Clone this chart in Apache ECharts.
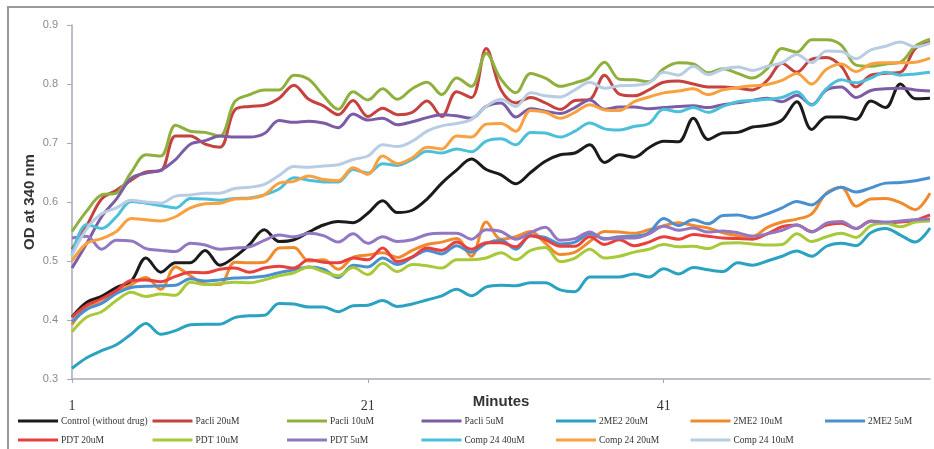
<!DOCTYPE html>
<html>
<head>
<meta charset="utf-8">
<script src="https://cdn.jsdelivr.net/npm/echarts@6/dist/echarts.min.js"></script>
<style>
  html, body { margin: 0; padding: 0; background: #fff; }
  #chart { width: 934px; height: 449px; }
</style>
</head>
<body>
<div id="chart"></div>
<script>
// Minutes 1..59
const minutes = [];
for (let m = 1; m <= 59; m++) minutes.push(String(m));

const seriesNames = [
  'Control (without drug)', 'Pacli 20uM', 'Pacli 10uM', 'Pacli 5uM',
  '2ME2 20uM', '2ME2 10uM', '2ME2 5uM',
  'PDT 20uM', 'PDT 10uM', 'PDT 5uM',
  'Comp 24 40uM', 'Comp 24 20uM', 'Comp 24 10uM'
];

const seriesColors = [
  '#1b1b1b', '#c4433f', '#8fb03e', '#7d5ca6',
  '#2ba2bf', '#f08a2c', '#4a8fd0',
  '#e8403c', '#a8c93a', '#9277c2',
  '#4cbfda', '#f9a040', '#b8cde4'
];

// OD at 340 nm readings
const control = [0.405,0.43,0.44,0.455,0.466,0.505,0.481,0.497,0.497,0.518,0.493,0.507,0.528,0.553,0.533,0.536,0.549,0.561,0.567,0.565,0.581,0.602,0.582,0.586,0.605,0.632,0.654,0.673,0.655,0.646,0.631,0.65,0.669,0.68,0.683,0.697,0.667,0.68,0.676,0.692,0.703,0.702,0.742,0.706,0.717,0.718,0.727,0.73,0.739,0.77,0.723,0.744,0.744,0.74,0.771,0.76,0.8,0.775,0.776];
const pacli20 = [0.52,0.56,0.605,0.62,0.637,0.651,0.653,0.712,0.712,0.698,0.693,0.756,0.762,0.764,0.776,0.798,0.774,0.763,0.748,0.772,0.745,0.759,0.748,0.752,0.771,0.745,0.787,0.777,0.86,0.79,0.768,0.777,0.768,0.757,0.772,0.774,0.815,0.783,0.78,0.79,0.803,0.805,0.8,0.795,0.795,0.793,0.79,0.806,0.835,0.82,0.842,0.845,0.83,0.795,0.815,0.818,0.82,0.86,0.871];
const pacli10 = [0.55,0.585,0.612,0.615,0.65,0.68,0.678,0.73,0.72,0.718,0.712,0.77,0.782,0.79,0.79,0.815,0.808,0.78,0.757,0.787,0.773,0.792,0.774,0.792,0.803,0.782,0.81,0.796,0.852,0.808,0.785,0.818,0.81,0.796,0.802,0.811,0.837,0.808,0.807,0.804,0.826,0.836,0.834,0.819,0.826,0.818,0.81,0.826,0.86,0.854,0.875,0.875,0.866,0.832,0.83,0.834,0.837,0.864,0.876];
const pacli5 = [0.488,0.53,0.575,0.605,0.64,0.649,0.654,0.672,0.698,0.704,0.712,0.71,0.71,0.716,0.738,0.735,0.737,0.734,0.726,0.749,0.739,0.742,0.731,0.736,0.743,0.748,0.746,0.742,0.762,0.768,0.744,0.758,0.754,0.75,0.76,0.773,0.757,0.761,0.761,0.758,0.76,0.762,0.763,0.76,0.765,0.768,0.772,0.776,0.77,0.781,0.765,0.79,0.795,0.777,0.789,0.792,0.793,0.79,0.788];
const me2_20 = [0.318,0.336,0.348,0.358,0.376,0.394,0.376,0.382,0.392,0.393,0.393,0.404,0.407,0.408,0.428,0.427,0.422,0.422,0.414,0.424,0.425,0.433,0.423,0.427,0.434,0.441,0.452,0.441,0.456,0.459,0.458,0.463,0.463,0.451,0.448,0.473,0.473,0.473,0.478,0.473,0.487,0.478,0.489,0.485,0.482,0.497,0.493,0.5,0.508,0.517,0.508,0.525,0.53,0.526,0.548,0.555,0.544,0.532,0.556];
const me2_10 = [0.392,0.422,0.43,0.447,0.46,0.472,0.452,0.49,0.475,0.461,0.46,0.498,0.497,0.498,0.522,0.523,0.5,0.502,0.486,0.506,0.51,0.514,0.506,0.518,0.528,0.532,0.538,0.508,0.566,0.537,0.541,0.55,0.53,0.511,0.515,0.533,0.55,0.549,0.547,0.553,0.56,0.565,0.56,0.556,0.548,0.543,0.542,0.557,0.566,0.571,0.58,0.615,0.625,0.593,0.605,0.606,0.599,0.587,0.615];
const me2_5 = [0.397,0.418,0.428,0.445,0.455,0.457,0.458,0.459,0.47,0.466,0.468,0.471,0.472,0.474,0.48,0.485,0.49,0.486,0.472,0.493,0.49,0.505,0.494,0.506,0.518,0.512,0.526,0.515,0.53,0.535,0.52,0.543,0.54,0.529,0.532,0.546,0.538,0.541,0.542,0.548,0.572,0.56,0.57,0.563,0.577,0.578,0.573,0.58,0.59,0.601,0.595,0.614,0.625,0.617,0.624,0.632,0.633,0.636,0.641];
const pdt20 = [0.405,0.425,0.436,0.45,0.467,0.468,0.465,0.474,0.481,0.48,0.486,0.488,0.481,0.488,0.491,0.488,0.502,0.498,0.497,0.505,0.502,0.522,0.499,0.507,0.522,0.518,0.532,0.52,0.531,0.531,0.524,0.543,0.536,0.525,0.525,0.541,0.528,0.536,0.526,0.532,0.541,0.537,0.545,0.542,0.539,0.538,0.537,0.546,0.558,0.561,0.55,0.561,0.564,0.555,0.568,0.565,0.566,0.569,0.578];
const pdt10 = [0.38,0.405,0.414,0.433,0.447,0.44,0.444,0.442,0.464,0.46,0.462,0.464,0.463,0.468,0.475,0.48,0.49,0.482,0.475,0.489,0.477,0.496,0.482,0.494,0.492,0.488,0.502,0.502,0.505,0.514,0.502,0.518,0.523,0.499,0.505,0.52,0.505,0.508,0.515,0.52,0.528,0.524,0.525,0.521,0.53,0.531,0.529,0.527,0.528,0.546,0.533,0.541,0.547,0.54,0.56,0.564,0.558,0.566,0.568];
const pdt5 = [0.539,0.542,0.52,0.535,0.534,0.521,0.518,0.516,0.53,0.527,0.52,0.522,0.524,0.535,0.544,0.541,0.547,0.543,0.532,0.546,0.53,0.541,0.533,0.536,0.545,0.547,0.547,0.537,0.553,0.55,0.537,0.548,0.557,0.535,0.538,0.549,0.537,0.539,0.539,0.546,0.559,0.552,0.556,0.549,0.551,0.548,0.542,0.546,0.552,0.561,0.549,0.564,0.567,0.555,0.567,0.566,0.568,0.57,0.571];
const comp40 = [0.51,0.562,0.555,0.575,0.601,0.598,0.594,0.59,0.606,0.605,0.603,0.606,0.607,0.612,0.622,0.641,0.637,0.634,0.634,0.655,0.649,0.665,0.662,0.672,0.686,0.683,0.69,0.685,0.703,0.707,0.697,0.718,0.717,0.71,0.72,0.734,0.724,0.722,0.728,0.733,0.757,0.753,0.76,0.752,0.762,0.77,0.772,0.774,0.777,0.787,0.764,0.792,0.807,0.802,0.81,0.82,0.815,0.817,0.82];
const comp20 = [0.5,0.53,0.538,0.55,0.572,0.57,0.568,0.575,0.59,0.597,0.598,0.605,0.606,0.612,0.632,0.635,0.644,0.638,0.636,0.658,0.647,0.678,0.665,0.675,0.693,0.69,0.712,0.71,0.732,0.733,0.72,0.755,0.752,0.742,0.752,0.765,0.756,0.755,0.77,0.778,0.785,0.788,0.792,0.782,0.79,0.794,0.797,0.799,0.806,0.818,0.8,0.825,0.834,0.821,0.834,0.836,0.836,0.837,0.844];
const comp10 = [0.51,0.555,0.58,0.59,0.603,0.6,0.598,0.61,0.612,0.615,0.615,0.623,0.625,0.63,0.645,0.66,0.659,0.661,0.663,0.672,0.678,0.697,0.694,0.703,0.72,0.729,0.733,0.74,0.762,0.774,0.762,0.785,0.78,0.778,0.79,0.803,0.793,0.797,0.798,0.802,0.82,0.815,0.83,0.816,0.825,0.829,0.823,0.83,0.836,0.85,0.836,0.856,0.855,0.843,0.858,0.864,0.871,0.863,0.869];

const seriesValues = [control, pacli20, pacli10, pacli5, me2_20, me2_10, me2_5,
  pdt20, pdt10, pdt5, comp40, comp20, comp10];

const yTicks = { min: 0.3, max: 0.9, step: 0.1 };

const chart = echarts.init(document.getElementById('chart'), null, { renderer: 'canvas' });

// Legend laid out as a fixed 7-column grid, two rows
const legends = seriesNames.map((name, i) => {
  const row = i < 7 ? 0 : 1;
  const col = i < 7 ? i : i - 7;
  return {
    data: [name],
    left: 18 + col * 134.5,
    top: row === 0 ? 416 : 435,
    padding: 0,
    itemWidth: 40,
    itemHeight: 3,
    itemGap: 0,
    icon: 'rect',
    selectedMode: false,
    textStyle: { fontFamily: 'Liberation Serif', fontSize: 9.5, color: '#333', padding: [0, 0, 0, -2] }
  };
});

chart.setOption({
  animation: false,
  backgroundColor: '#fff',
  color: seriesColors,
  grid: { left: 72, top: 25, right: 4, bottom: 70, containLabel: false },
  graphic: [{
    type: 'rect',
    shape: { x: 8, y: 7, width: 960, height: 480 },
    style: { fill: 'none', stroke: '#9a9a9a', lineWidth: 2 },
    silent: true
  }],
  legend: legends,
  xAxis: {
    type: 'category',
    data: minutes,
    boundaryGap: false,
    name: 'Minutes',
    nameLocation: 'middle',
    nameGap: 15,
    nameMoveOverlap: false,
    nameTextStyle: { fontFamily: 'Liberation Sans', fontWeight: 'bold', fontSize: 15, color: '#333' },
    axisLine: { lineStyle: { color: '#a9a9b8', width: 1.5 } },
    axisTick: { interval: 19, length: 4, lineStyle: { color: '#a9a9b8' } },
    axisLabel: { interval: 19, margin: 20, fontFamily: 'Liberation Serif', fontSize: 14, color: '#333' },
    splitLine: { show: false }
  },
  yAxis: {
    type: 'value',
    min: yTicks.min,
    max: yTicks.max,
    interval: yTicks.step,
    name: 'OD at 340 nm',
    nameLocation: 'middle',
    nameGap: 35,
    nameMoveOverlap: false,
    nameRotate: 90,
    nameTextStyle: { fontFamily: 'Liberation Sans', fontWeight: 'bold', fontSize: 15, color: '#333' },
    axisLine: { show: true, lineStyle: { color: '#a9a9b8', width: 1.5 } },
    axisTick: { show: true, length: 5, lineStyle: { color: '#a9a9b8' } },
    axisLabel: { margin: 14, fontFamily: 'Liberation Sans', fontSize: 11, color: '#8a8a8a',
      formatter: v => v.toFixed(1) },
    splitLine: { show: false }
  },
  series: seriesNames.map((name, i) => ({
    name: name,
    type: 'line',
    data: seriesValues[i],
    smooth: 0.35,
    showSymbol: false,
    symbol: 'none',
    lineStyle: { width: 3, color: seriesColors[i] },
    itemStyle: { color: seriesColors[i] }
  }))
});
</script>
</body>
</html>
